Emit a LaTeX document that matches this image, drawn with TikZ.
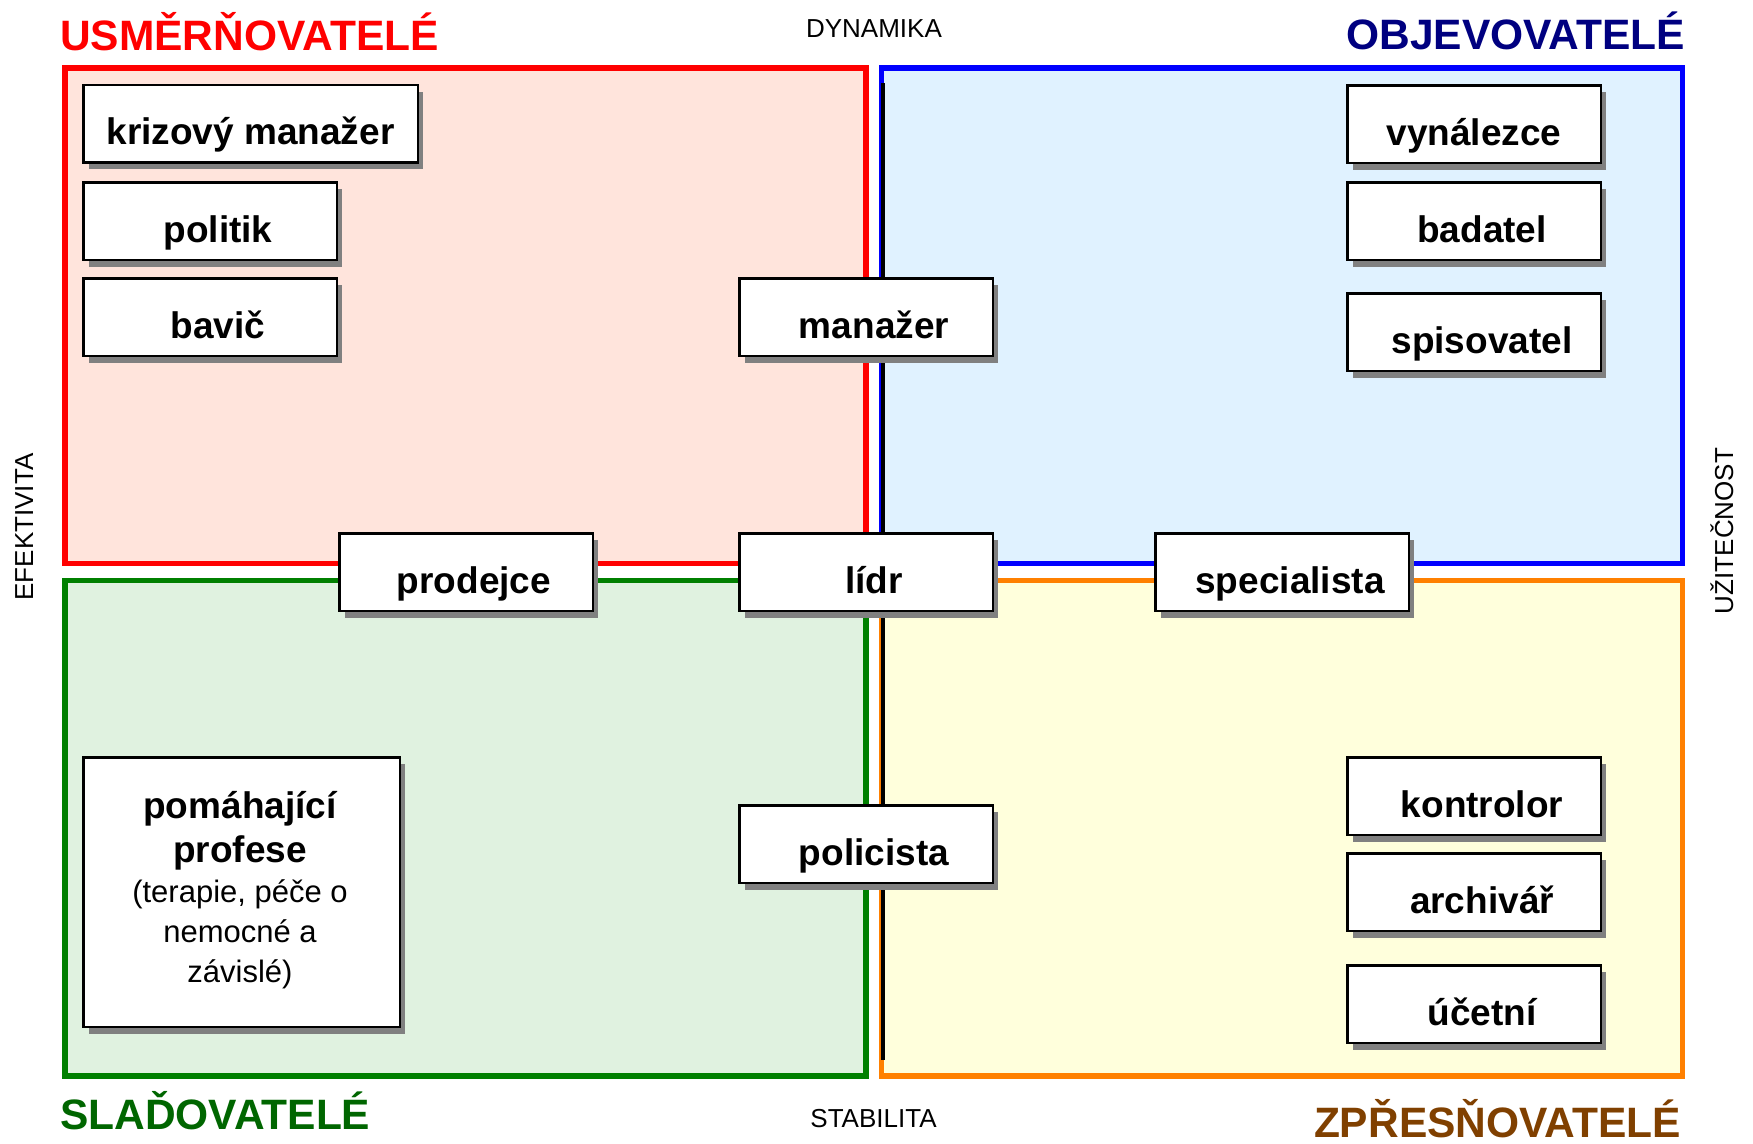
\documentclass[tikz,border=0pt]{standalone}
\usepackage{fontspec}
\setmainfont{Liberation Sans}
\usetikzlibrary{shadows}

\definecolor{redFill}{RGB}{255,228,220}
\definecolor{blueFill}{RGB}{224,242,255}
\definecolor{greenFill}{RGB}{224,242,224}
\definecolor{orangeFill}{RGB}{255,255,220}
\definecolor{redLine}{RGB}{255,0,0}
\definecolor{blueLine}{RGB}{0,0,255}
\definecolor{greenLine}{RGB}{0,128,0}
\definecolor{orangeLine}{RGB}{255,128,0}
\definecolor{navyTitle}{RGB}{0,0,128}
\definecolor{greenTitle}{RGB}{0,102,0}
\definecolor{brownTitle}{RGB}{128,64,0}
\definecolor{shadowGray}{RGB}{128,128,128}

\begin{document}
\begin{tikzpicture}[x=1pt,y=-1pt,
  quadrant/.style={line width=5.5pt, inner sep=0pt, minimum width=801pt, minimum height=495.5pt},
  role/.style={draw=black, line width=2.5pt, fill=white, inner sep=0pt,
     minimum width=253.5pt, minimum height=77.5pt,
     text height=42pt, text depth=0pt,
     font=\fontsize{37}{44}\selectfont\bfseries,
     drop shadow={shadow xshift=5.5pt, shadow yshift=-7pt, fill=shadowGray, opacity=1}},
  nudge/.style={execute at begin node={\hspace*{16pt}}},
  title/.style={inner sep=0pt, text depth=0pt, font=\fontsize{42.5}{50}\selectfont\bfseries},
  axis label/.style={inner sep=0pt, anchor=base, font=\fontsize{26}{30}\selectfont}]

% page
\fill[white] (0,0) rectangle (1753,1143);
\useasboundingbox (0,0) rectangle (1753,1143);

% four quadrants
\node[quadrant, draw=redLine, fill=redFill]       (usm) at (465.5,315.5) {};
\node[quadrant, draw=blueLine, fill=blueFill]     (obj) at (1282,315.5) {};
\node[quadrant, draw=greenLine, fill=greenFill]   (slad) at (465.5,828) {};
\node[quadrant, draw=orangeLine, fill=orangeFill] (zpr) at (1282,828) {};

% vertical axis
\coordinate (axisTop) at (883.2,83);
\coordinate (axisBottom) at (883.2,1060);
\draw[line width=3.8pt, black] (axisTop) -- (axisBottom);

% group titles
\node[title, text=redLine, anchor=base west]    (usmTitle)  at (60,50)    {USMĚRŇOVATELÉ};
\node[title, text=navyTitle, anchor=base east]  (objTitle)  at (1685,49)  {OBJEVOVATELÉ};
\node[title, text=greenTitle, anchor=base west] (sladTitle) at (60,1129)  {SLAĎOVATELÉ};
\node[title, text=brownTitle, anchor=base east] (zprTitle)  at (1681,1137) {ZPŘESŇOVATELÉ};

% axis names
\node[axis label] (dyn)  at (874,37)    {DYNAMIKA};
\node[axis label] (stab) at (873.5,1127) {STABILITA};
\node[axis label, rotate=90] (efek) at (33,527)   {EFEKTIVITA};
\node[axis label, rotate=90] (uzit) at (1733,531) {UŽITEČNOST};

% roles
\node[role, minimum width=334.5pt] (krizovy) at (250.5,123.5) {krizový manažer};
\node[role, nudge] (politik)  at (210,221) {politik};
\node[role, nudge] (bavic)    at (210,317) {bavič};
\node[role, nudge] (manazer)  at (866,317) {manažer};
\node[role, nudge] (prodejce) at (466,572) {prodejce};
\node[role, nudge] (lidr)     at (866,572) {lídr};
\node[role, nudge] (specialista) at (1282,572) {specialista};
\node[role] (vynalezce)       at (1474,124) {vynálezce};
\node[role, nudge] (badatel)  at (1474,221) {badatel};
\node[role, nudge] (spisovatel) at (1474,332) {spisovatel};
\node[role, nudge] (policista) at (866,844) {policista};
\node[role, nudge] (kontrolor) at (1474,796) {kontrolor};
\node[role, nudge] (archivar)  at (1474,892) {archivář};
\node[role, nudge] (ucetni)    at (1474,1004) {účetní};

\node[role, minimum width=316.5pt, minimum height=269.5pt, text height=0pt, text depth=0pt]
  (pomahajici) at (241.5,892) {};
\node[anchor=base, inner sep=0pt] (pomahajiciText) at (240,818)
  {\vtop{\hsize=310pt\parindent=0pt\parskip=0pt\centering
    \fontsize{37}{44}\selectfont\bfseries pomáhající\\profese\par
    \fontsize{31}{40}\selectfont\mdseries (terapie, péče o\\nemocné a\\závislé)\par}};

\end{tikzpicture}
\end{document}
